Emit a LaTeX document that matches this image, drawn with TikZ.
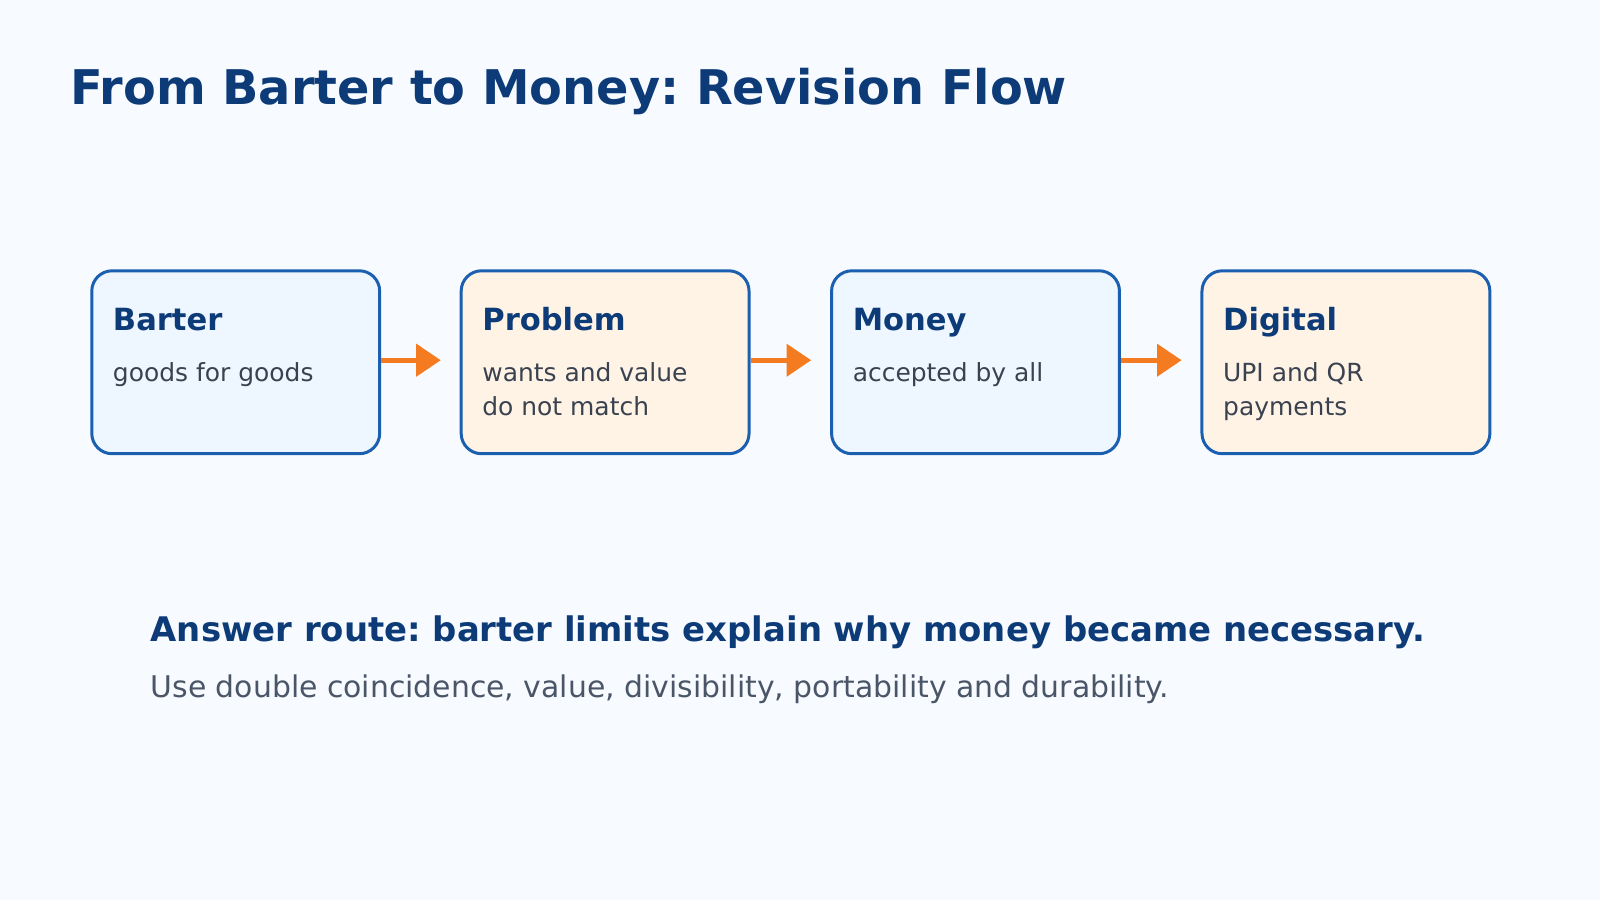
\documentclass[tikz,border=0pt]{standalone}
\usepackage{fontspec}
\setmainfont{DejaVu Sans}
\frenchspacing
\usetikzlibrary{positioning,arrows.meta}
\definecolor{bgpale}{HTML}{F7FBFF}
\definecolor{navy}{HTML}{0D3B78}
\definecolor{edgeblue}{HTML}{1A5FB0}
\definecolor{fillblue}{HTML}{EEF6FF}
\definecolor{fillcream}{HTML}{FFF3E6}
\definecolor{flowarrow}{HTML}{F47B20}
\definecolor{bodygrey}{HTML}{3A4250}
\definecolor{notegrey}{HTML}{4A5568}
\tikzset{
  step-box/.style={draw=edgeblue, line width=0.85pt, rounded corners=5.8pt,
    minimum width=2.88cm, minimum height=1.83cm, inner sep=0pt},
  step-blue/.style={step-box, fill=fillblue},
  step-cream/.style={step-box, fill=fillcream},
  step-title/.style={anchor=base west, inner sep=0pt, text=navy, font=\fontsize{8.7pt}{10pt}\selectfont\bfseries},
  step-text/.style={anchor=north west, inner sep=0pt, text=bodygrey, align=left,
    font=\fontsize{7.1pt}{9.6pt}\selectfont},
  flow/.style={draw=flowarrow, line width=1.5pt, -{Triangle[length=7pt,width=9pt]}}
}
\begin{document}
\begin{tikzpicture}[x=0.010204cm, y=-0.010204cm]
  \useasboundingbox[fill=bgpale] (0,0) rectangle (1568,882);
  % title
  \node[anchor=base west, inner sep=0pt, text=navy,
    font=\fontsize{13.6pt}{16pt}\selectfont\bfseries] (title) at (68,102)
    {From Barter to Money: Revision Flow};
  % steps
  \node[step-blue]  (barter)  at (231,355) {};
  \node[step-cream] (problem) at (593,355) {};
  \node[step-blue]  (money)   at (956,355) {};
  \node[step-cream] (digital) at (1319,355) {};
  \foreach \n/\t/\d in {barter/Barter/{goods for goods},
      problem/Problem/{wants and value\\do not match},
      money/Money/{accepted by all},
      digital/Digital/{UPI and QR\\payments}}{
    \node[step-title] (\n-title) at ([xshift=0.22cm,yshift=-0.61cm]\n.north west) {\t};
    \node[step-text] (\n-text) at ([yshift=-0.32cm]\n-title.base west) {\d};
  }
  % arrows
  \coordinate (a1) at (432,353);
  \coordinate (a2) at (795,353);
  \coordinate (a3) at (1158,353);
  \draw[flow] (barter.east |- a1) -- (a1);
  \draw[flow] (problem.east |- a2) -- (a2);
  \draw[flow] (money.east |- a3) -- (a3);
  % answer route
  \node[anchor=base west, inner sep=0pt, text=navy,
    font=\fontsize{9.65pt}{12pt}\selectfont\bfseries] (answer) at (147,629)
    {Answer route: barter limits explain why money became necessary.};
  \node[anchor=base west, inner sep=0pt, text=notegrey,
    font=\fontsize{8.5pt}{10pt}\selectfont] (hint) at (147,684)
    {Use double coincidence, value, divisibility, portability and durability.};
\end{tikzpicture}
\end{document}
